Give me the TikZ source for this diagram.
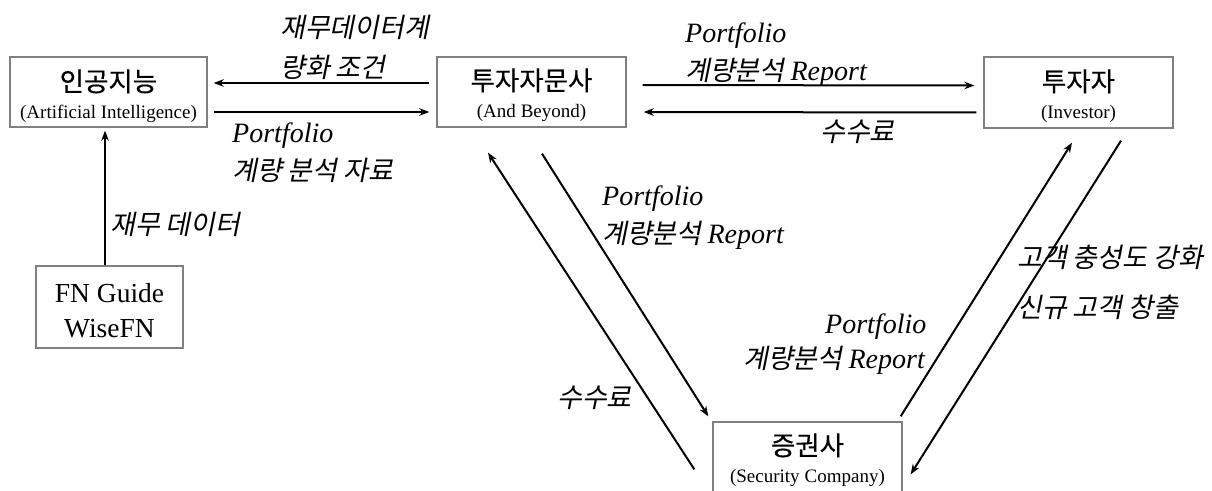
\documentclass[tikz,border=0pt]{standalone}
\usepackage{fontspec}
\setmainfont{Liberation Serif}
\newfontfamily\krfont[FakeBold=0.4]{Noto Sans CJK KR}
\newfontfamily\krslant[FakeSlant=0.2]{Noto Sans CJK KR}
\usetikzlibrary{arrows.meta}
\definecolor{boxgray}{RGB}{128,128,128}
\newcommand\krtxt[1]{{\krslant\fontsize{27}{30}\selectfont #1}}
\newcommand\latxt[1]{{\itshape\fontsize{28}{30}\selectfont #1}}
\tikzset{
  box/.style={draw=boxgray, line width=1.4pt, inner sep=0pt, rectangle},
  arr/.style={-{Stealth[length=10pt,width=7.5pt]}, line width=2pt, black},
  ttl/.style={anchor=base, inner sep=0pt, font=\krfont\fontsize{26.5}{30}\selectfont},
  sub/.style={anchor=base, inner sep=0pt, font=\fontsize{19}{21}\selectfont},
  fnt/.style={anchor=base, inner sep=0pt, font=\fontsize{27.5}{30}\selectfont},
  lbl/.style={anchor=base west, inner sep=0pt},
}
\begin{document}
\begin{tikzpicture}[x=1pt,y=-1pt]
\useasboundingbox (0,0) rectangle (1212,490);
% boxes
\node[box, minimum width=197pt, minimum height=70pt] (ai) at (108.5,92) {};
\node[box, minimum width=189pt, minimum height=70pt] (adv) at (531.5,92) {};
\node[box, minimum width=189pt, minimum height=71pt] (inv) at (1078.5,92.5) {};
\node[box, minimum width=147pt, minimum height=82pt] (fn) at (109.5,307) {};
\node[box, minimum width=189pt, minimum height=90pt] (sec) at (807.5,467) {};
% box texts
\node[ttl] (aiT) at ([yshift=-35pt]ai.north) {인공지능};
\node[sub] (aiS) at ([yshift=-62pt]ai.north) {(Artificial Intelligence)};
\node[ttl] (advT) at ([yshift=-34pt]adv.north) {투자자문사};
\node[sub] (advS) at ([yshift=-61pt]adv.north) {(And\hspace{5pt}Beyond)};
\node[ttl] (invT) at ([yshift=-35pt]inv.north) {투자자};
\node[sub] (invS) at ([yshift=-62pt]inv.north) {(Investor)};
\node[fnt] (fnT) at ([yshift=-37pt]fn.north) {FN Guide};
\node[fnt] (fnS) at ([yshift=-72pt]fn.north) {WiseFN};
\node[ttl] (secT) at ([yshift=-34pt]sec.north) {증권사};
\node[sub] (secS) at ([yshift=-61pt]sec.north) {(Security\hspace{5pt}Company)};
% horizontal arrows
\draw[arr, shorten <=7pt, shorten >=6pt] ([yshift=9pt]adv.west) -- ([yshift=9pt]ai.east);
\draw[arr, shorten <=6pt, shorten >=7pt] ([yshift=-20pt]ai.east) -- ([yshift=-20pt]adv.west);
\draw[arr, shorten <=16pt, shorten >=9pt] ([yshift=7pt]adv.east) -- ([yshift=7pt]inv.west);
\draw[arr, shorten <=7pt, shorten >=17pt] ([yshift=-20pt]inv.west) -- ([yshift=-20pt]adv.east);
% vertical arrow
\draw[arr, shorten >=3pt] ([xshift=-4.5pt]fn.north) -- ([xshift=-3.5pt]ai.south);
% diagonal arrows
\draw[arr] ([shift={(-18,48)}]sec.north west) -- ([shift={(-43.5,25)}]adv.south);
\draw[arr] ([shift={(10.5,26)}]adv.south) -- ([shift={(-4,-5)}]sec.north west);
\draw[arr] ([shift={(-2,-5)}]sec.north east) -- ([shift={(-6.5,14)}]inv.south);
\draw[arr] ([shift={(42.5,12)}]inv.south) -- ([shift={(8,53)}]sec.north east);
% labels
\node[lbl] (l1a) at (280,37) {\krtxt{재무데이터계}};
\node[lbl] (l1b) at (280,77) {\krtxt{량화 조건}};
\node[lbl] (l2a) at (232,142) {\latxt{Portfolio}};
\node[lbl] (l2b) at (232,180) {\krtxt{계량 분석 자료}};
\node[lbl] (l3a) at (685,42) {\latxt{Portfolio}};
\node[lbl] (l3b) at (685,80) {\krtxt{계량분석}\hspace{6pt}\latxt{Report}};
\node[lbl] (l4) at (820,141) {\krtxt{수수료}};
\node[lbl] (l5) at (110,234) {\krtxt{재무 데이터}};
\node[lbl] (l6a) at (602,205) {\latxt{Portfolio}};
\node[lbl] (l6b) at (602,243) {\krtxt{계량분석}\hspace{6pt}\latxt{Report}};
\node[lbl] (l7a) at (825,333) {\latxt{Portfolio}};
\node[lbl] (l7b) at (743,368) {\krtxt{계량분석}\hspace{6pt}\latxt{Report}};
\node[lbl] (l8) at (557,407) {\krtxt{수수료}};
\node[lbl] (l9a) at (1017,267) {\krtxt{고객 충성도 강화}};
\node[lbl] (l9b) at (1017,317) {\krtxt{신규 고객 창출}};
\end{tikzpicture}
\end{document}
